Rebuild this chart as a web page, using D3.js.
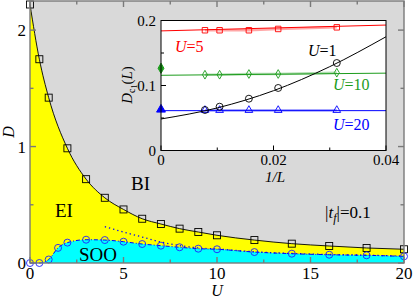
<!DOCTYPE html>
<html>
<head>
<meta charset="utf-8">
<script src="https://cdn.jsdelivr.net/npm/d3@7"></script>
<style>
  body { margin: 0; background: #fff; }
</style>
</head>
<body>
<svg id="chart" width="415" height="298"></svg>
<script>
// main phase diagram: BI boundary (squares) and SOO boundary (circles)
const biU = [0, 0.5, 1, 2, 3, 4, 5, 6, 7, 8, 9, 10, 12, 14, 16, 18, 20]
const biD = [2.22, 1.75, 1.42, 0.985, 0.72, 0.56, 0.46, 0.38, 0.335, 0.295, 0.266, 0.238, 0.197, 0.166, 0.146, 0.129, 0.118]

const sooU = [0, 0.5, 1, 1.5, 2, 3, 4, 5, 6, 7, 8, 9, 10, 12, 14, 16, 18, 20]
const sooD = [0, 0, 0.03, 0.13, 0.175, 0.2, 0.197, 0.183, 0.163, 0.149, 0.135, 0.123, 0.118, 0.094, 0.08, 0.071, 0.066, 0.057]

// dotted curve
const dotU = [4, 5, 6, 7, 8, 9, 10, 12, 14, 16, 18, 20]
const dotD = [0.312, 0.266, 0.223, 0.18, 0.15, 0.129, 0.12, 0.096, 0.082, 0.073, 0.067, 0.059]

const xTicks = [0, 5, 10, 15, 20]
const yTicks = [0, 1, 2]

// inset: D_c1(L) vs 1/L
const invL = [1/128, 1/96, 1/64, 1/48, 1/32]
const insetSeries = [
  {name: "U=5",  color: "#ff0000", shape: "square",   pts: [0.185, 0.185, 0.185, 0.187, 0.1895], fit: [[0, 0.184], [0.04, 0.193]], extrap: null},
  {name: "U=10", color: "#1c9c1c", shape: "diamond",  pts: [0.1166, 0.1166, 0.1177, 0.1177, 0.1197], fit: [[0, 0.1157], [0.04, 0.119]], extrap: 0.1265},
  {name: "U=20", color: "#0000ff", shape: "triangle", pts: [0.062, 0.062, 0.062, 0.062, 0.062], fit: [[0, 0.0613], [0.04, 0.0613]], extrap: 0.063},
  {name: "U=1",  color: "#000000", shape: "circle",   pts: [0.0623, 0.0674, 0.0797, 0.0962, 0.1346],
   fit: [[0, 0.0485], [0.01, 0.0655], [0.02, 0.092], [0.03, 0.129], [0.04, 0.175]], extrap: null}
]
const insetXTicks = [0, 0.02, 0.04]
const insetYTicks = [0, 0.1, 0.2]

const FONT = "'Liberation Serif', 'Times New Roman', 'DejaVu Serif', serif"

const svg = d3.select("#chart").attr("font-family", FONT)

const x = d3.scaleLinear().domain([0, 20]).range([30, 404])
const y = d3.scaleLinear().domain([0, 2.25]).range([263, 1])

const bi = biU.map((u, i) => [u, biD[i]])
const soo = sooU.map((u, i) => [u, sooD[i]])
const dots = dotU.map((u, i) => [u, dotD[i]])

// regions
svg.append("rect")
    .attr("x", x(0)).attr("y", y(2.25))
    .attr("width", x(20) - x(0)).attr("height", y(0) - y(2.25))
    .attr("fill", "#d9d9d9")

const area = d3.area().x(d => x(d[0])).y0(y(0)).y1(d => y(d[1])).curve(d3.curveMonotoneX)
svg.append("path").attr("d", area(bi)).attr("fill", "#ffff00")
svg.append("path").attr("d", area(soo)).attr("fill", "#00ffff")

const line = d3.line().x(d => x(d[0])).y(d => y(d[1])).curve(d3.curveMonotoneX)
svg.append("path").attr("d", line(bi))
    .attr("fill", "none").attr("stroke", "#000").attr("stroke-width", 0.9)
svg.append("path").attr("d", line(soo))
    .attr("fill", "none").attr("stroke", "#0000ff").attr("stroke-width", 1)
    .attr("stroke-dasharray", "4,2,1,2")
svg.append("path").attr("d", line(dots))
    .attr("fill", "none").attr("stroke", "#0000ff").attr("stroke-width", 1.3)
    .attr("stroke-dasharray", "1.3,3")

svg.selectAll(".sq").data(bi).enter().append("rect")
    .attr("x", d => x(d[0]) - 3.5).attr("y", d => y(d[1]) - 3.5)
    .attr("width", 7).attr("height", 7)
    .attr("fill", "none").attr("stroke", "#000").attr("stroke-width", 0.9)
svg.selectAll(".ci").data(soo).enter().append("circle")
    .attr("cx", d => x(d[0])).attr("cy", d => y(d[1])).attr("r", 3.5)
    .attr("fill", "none").attr("stroke", "#2020ff").attr("stroke-width", 0.9)

// main frame and ticks (inward, mirrored)
const frame = svg.append("g").attr("stroke", "#7a7a7a").attr("stroke-width", 1.4)
frame.append("rect")
    .attr("x", x(0)).attr("y", y(2.25))
    .attr("width", x(20) - x(0)).attr("height", y(0) - y(2.25))
    .attr("fill", "none")
d3.range(0, 20.01, 2.5).forEach(v => {
  const len = v % 5 === 0 ? 6 : 3.5
  frame.append("line").attr("x1", x(v)).attr("x2", x(v)).attr("y1", y(0)).attr("y2", y(0) - len)
  frame.append("line").attr("x1", x(v)).attr("x2", x(v)).attr("y1", y(2.25)).attr("y2", y(2.25) + len)
})
d3.range(0, 2.01, 0.5).forEach(v => {
  const len = v % 1 === 0 ? 6 : 3.5
  frame.append("line").attr("y1", y(v)).attr("y2", y(v)).attr("x1", x(0)).attr("x2", x(0) + len)
  frame.append("line").attr("y1", y(v)).attr("y2", y(v)).attr("x1", x(20)).attr("x2", x(20) - len)
})

svg.selectAll(".xt").data(xTicks).enter().append("text")
    .attr("x", d => x(d)).attr("y", 279).attr("text-anchor", "middle")
    .attr("font-size", 17).text(d => d)
svg.selectAll(".yt").data(yTicks).enter().append("text")
    .attr("x", 26).attr("y", d => y(d) + 6).attr("text-anchor", "end")
    .attr("font-size", 17).text(d => d)

svg.append("text").attr("x", 217).attr("y", 296).attr("text-anchor", "middle")
    .attr("font-size", 16).attr("font-style", "italic").text("U")
svg.append("text").attr("transform", "translate(14,132) rotate(-90)").attr("text-anchor", "middle")
    .attr("font-size", 16).attr("font-style", "italic").text("D")

// region labels
svg.append("text").attr("x", 55).attr("y", 217).attr("font-size", 19).text("EI")
svg.append("text").attr("x", 131).attr("y", 190).attr("font-size", 19).text("BI")
svg.append("text").attr("x", 79).attr("y", 261).attr("font-size", 19).text("SOO")
const tf = svg.append("text").attr("x", 325).attr("y", 218).attr("font-size", 17)
tf.append("tspan").text("|")
tf.append("tspan").attr("font-style", "italic").text("t")
tf.append("tspan").attr("font-style", "italic").attr("font-size", 12).attr("dy", 4).text("f")
tf.append("tspan").attr("dy", -4).text("|=0.1")

// inset
const ix = d3.scaleLinear().domain([0, 0.04]).range([161, 386])
const iy = d3.scaleLinear().domain([0, 0.2]).range([150.5, 20.5])

svg.append("rect")
    .attr("x", ix(0)).attr("y", iy(0.2))
    .attr("width", ix(0.04) - ix(0)).attr("height", iy(0) - iy(0.2))
    .attr("fill", "#fff")

const inset = svg.append("g")
const fitLine = d3.line().x(d => ix(d[0])).y(d => iy(d[1])).curve(d3.curveMonotoneX)

insetSeries.forEach(s => {
  const pts = invL.map((v, i) => [v, s.pts[i]])
  if (s.shape !== "circle") {
    inset.append("path").attr("d", d3.line().x(d => ix(d[0])).y(d => iy(d[1]))(pts))
        .attr("fill", "none").attr("stroke", s.color).attr("stroke-opacity", 0.35).attr("stroke-width", 2.5)
  }
  inset.append("path").attr("d", fitLine(s.fit))
      .attr("fill", "none").attr("stroke", s.color).attr("stroke-width", 1)

  const sym = {square: d3.symbolSquare, diamond: d3.symbolDiamond, triangle: d3.symbolTriangle, circle: d3.symbolCircle}[s.shape]
  const size = {square: 30, diamond: 22, triangle: 26, circle: 38}[s.shape]
  inset.selectAll(null).data(pts).enter().append("path")
      .attr("d", d3.symbol().type(sym).size(size))
      .attr("transform", d => "translate(" + ix(d[0]) + "," + iy(d[1]) + ")")
      .attr("fill", "none").attr("stroke", s.color).attr("stroke-width", 0.9)
  if (s.extrap !== null) {
    inset.append("path")
        .attr("d", d3.symbol().type(sym).size(size + 8))
        .attr("transform", "translate(" + ix(0) + "," + iy(s.extrap) + ")")
        .attr("fill", s.color).attr("stroke", s.color)
  }
})

const iframe = svg.append("g").attr("stroke", "#000").attr("stroke-width", 1)
iframe.append("rect")
    .attr("x", ix(0)).attr("y", iy(0.2))
    .attr("width", ix(0.04) - ix(0)).attr("height", iy(0) - iy(0.2))
    .attr("fill", "none")
d3.range(0, 0.0401, 0.01).forEach((v, i) => {
  const len = i % 2 === 0 ? 5 : 3
  iframe.append("line").attr("x1", ix(v)).attr("x2", ix(v)).attr("y1", iy(0)).attr("y2", iy(0) - len)
})
d3.range(0, 0.201, 0.05).forEach((v, i) => {
  const len = i % 2 === 0 ? 5 : 3
  iframe.append("line").attr("y1", iy(v)).attr("y2", iy(v)).attr("x1", ix(0)).attr("x2", ix(0) + len)
})

svg.selectAll(".ixt").data(insetXTicks).enter().append("text")
    .attr("x", d => ix(d)).attr("y", 165).attr("text-anchor", "middle")
    .attr("font-size", 15).text(d => d)
svg.selectAll(".iyt").data(insetYTicks).enter().append("text")
    .attr("x", 156).attr("y", d => iy(d) + 5).attr("text-anchor", "end")
    .attr("font-size", 15).text(d => d)

svg.append("text").attr("x", 275).attr("y", 182).attr("text-anchor", "middle")
    .attr("font-size", 15).attr("font-style", "italic").text("1/L")
const dl = svg.append("text").attr("transform", "translate(132,85) rotate(-90)")
    .attr("text-anchor", "middle").attr("font-size", 15)
dl.append("tspan").attr("font-style", "italic").text("D")
dl.append("tspan").attr("font-size", 10).attr("dy", 3).text("c")
dl.append("tspan").attr("font-size", 8).attr("dy", 1.5).text("1")
dl.append("tspan").attr("dy", -4.5).text("(")
dl.append("tspan").attr("font-style", "italic").text("L")
dl.append("tspan").text(")")

// series labels in the inset
const labelPos = {"U=5": [175, 52], "U=1": [308, 56], "U=10": [333, 90], "U=20": [333, 130]}
insetSeries.forEach(s => {
  const t = svg.append("text").attr("x", labelPos[s.name][0]).attr("y", labelPos[s.name][1])
      .attr("font-size", 16).attr("fill", s.color)
  t.append("tspan").attr("font-style", "italic").text("U")
  t.append("tspan").text(s.name.slice(1))
})
</script>
</body>
</html>
